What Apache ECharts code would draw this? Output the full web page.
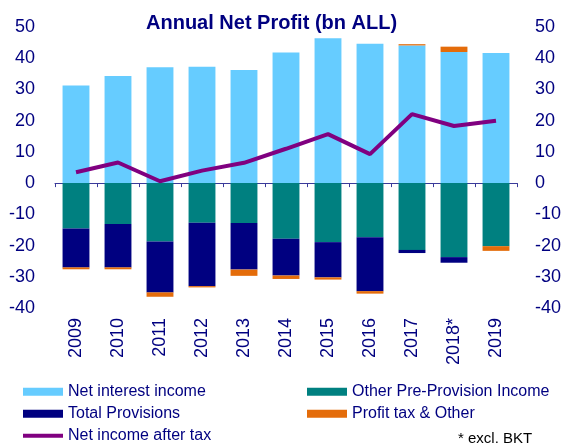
<!DOCTYPE html>
<html>
<head>
    <title>Annual Net Profit</title>
    <script src="https://cdn.jsdelivr.net/npm/echarts/dist/echarts.min.js"></script>
</head>
<body style="margin:0;">
    <div id="chart" style="width: 565px; height: 444px;"></div>
    <script type="text/javascript">
        // values, bn ALL
        var years = ['2009', '2010', '2011', '2012', '2013', '2014', '2015', '2016', '2017', '2018*', '2019'];
        var netInterest = [31.3, 34.3, 37.1, 37.3, 36.2, 41.8, 46.4, 44.6, 44.1, 42.0, 41.7];
        var otherPreProv = [-14.5, -13.1, -18.7, -12.7, -12.8, -17.8, -18.9, -17.3, -21.4, -23.7, -20.2];
        var provisions = [-12.5, -13.9, -16.3, -20.3, -14.9, -11.8, -11.3, -17.3, -1.0, -1.8, 0];
        var profitTax = [-0.6, -0.6, -1.4, -0.4, -2.0, -1.1, -0.7, -0.8, 0.4, 1.7, -1.5];
        var netIncome = [3.5, 6.6, 0.6, 4.0, 6.5, 11.0, 15.7, 9.3, 22.1, 18.3, 20.0];

        var navy = '#000080';
        var font = 'Liberation Sans, Arial, sans-serif';

        function legendAt(name, left, top, h) {
            return {
                data: [name],
                left: left,
                top: top,
                padding: 0,
                icon: 'rect',
                itemWidth: 40,
                itemHeight: h,
                itemGap: 5,
                selectedMode: false,
                textStyle: { color: navy, fontSize: 16, fontFamily: font, padding: [0, 0, 0, 0] }
            };
        }

        var myChart = echarts.init(document.getElementById('chart'));
        var option = {
            animation: false,
            title: {
                text: 'Annual Net Profit (bn ALL)',
                left: 146,
                top: 6,
                padding: 0,
                textStyle: { color: navy, fontSize: 20, fontWeight: 'bold', fontFamily: font }
            },
            legend: [
                legendAt('Net interest income', 23, 378, 8),
                legendAt('Total Provisions', 23, 400, 8),
                legendAt('Net income after tax', 23, 422, 4),
                legendAt('Other Pre-Provision Income', 307, 378, 8),
                legendAt('Profit tax & Other', 307, 400, 8)
            ],
            graphic: [{
                type: 'text',
                left: 458,
                top: 426,
                style: { text: '* excl. BKT', fill: '#000', fontSize: 15, fontFamily: font }
            }],
            grid: { left: 55, right: 48, top: 27, bottom: 136 },
            xAxis: [{
                type: 'category',
                data: years,
                position: 'bottom',
                axisLine: { show: false, onZero: false },
                axisTick: { show: false },
                axisLabel: { rotate: 90, margin: 10, color: navy, fontSize: 18, fontFamily: font }
            }, {
                type: 'category',
                data: years,
                position: 'bottom',
                axisLine: { show: true, onZero: true, lineStyle: { color: '#3a3a9a', width: 1 } },
                axisTick: { show: true, length: 4, lineStyle: { color: '#3a3a9a' } },
                axisLabel: { show: false }
            }],
            yAxis: [{
                type: 'value',
                min: -40, max: 50, interval: 10,
                axisLine: { show: false },
                axisTick: { show: false },
                splitLine: { show: false },
                axisLabel: { margin: 20, color: navy, fontSize: 18, fontFamily: font }
            }, {
                type: 'value',
                min: -40, max: 50, interval: 10,
                axisLine: { show: false },
                axisTick: { show: false },
                splitLine: { show: false },
                axisLabel: { margin: 18, color: navy, fontSize: 18, fontFamily: font }
            }],
            series: [{
                name: 'Net interest income',
                type: 'bar',
                stack: 'pl',
                barCategoryGap: '36%',
                data: netInterest,
                itemStyle: { color: '#66CCFF' }
            }, {
                name: 'Other Pre-Provision Income',
                type: 'bar',
                stack: 'pl',
                data: otherPreProv,
                itemStyle: { color: '#008080' }
            }, {
                name: 'Total Provisions',
                type: 'bar',
                stack: 'pl',
                data: provisions,
                itemStyle: { color: '#000080' }
            }, {
                name: 'Profit tax & Other',
                type: 'bar',
                stack: 'pl',
                data: profitTax,
                itemStyle: { color: '#E46C0A' }
            }, {
                name: 'Net income after tax',
                type: 'line',
                data: netIncome,
                symbol: 'none',
                z: 5,
                lineStyle: { color: '#800080', width: 4 },
                itemStyle: { color: '#800080' }
            }]
        };
        myChart.setOption(option);
    </script>
</body>
</html>
